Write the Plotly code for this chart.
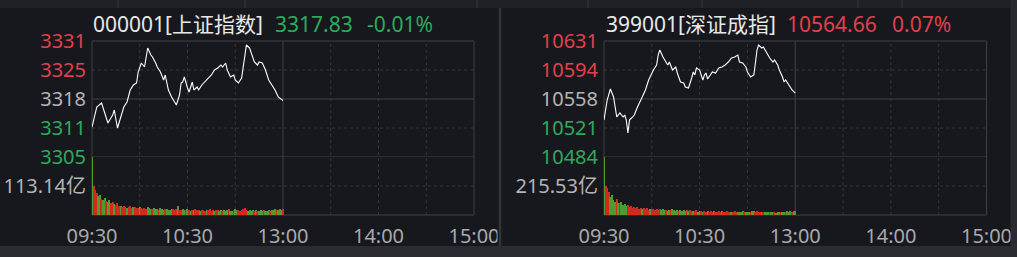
import plotly.graph_objects as go

W, H = 1017, 257

# ---------------- data ----------------
time_ticks = [0, 60, 120, 180, 240]
time_labels = ["09:30", "10:30", "13:00", "14:00", "15:00"]

# 上证指数
sh_name = "000001[上证指数]"
sh_last = "3317.83"
sh_chg = "-0.01%"
sh_prev = 3318.16
sh_step = 6.5
sh_tick_labels = ["3305", "3311", "3318", "3325", "3331"]
sh_vol_label = 113.14
sh_min = [0, 3, 6, 8, 10, 13, 14, 16, 18, 19, 20, 22, 24, 26, 28, 29, 31, 33, 34, 35,
          37, 38, 40, 41, 43, 45, 46, 48, 50, 51, 53, 55, 56, 57, 58, 60, 61, 63, 64, 66,
          67, 69, 71, 73, 75, 77, 79, 81, 82, 84, 85, 87, 89, 90, 92, 94, 95, 96, 97, 99,
          100, 102, 104, 105, 107, 109, 111, 113, 115, 117, 120]
sh_price = [3311.88, 3316.37, 3317.26, 3315.02, 3312.78, 3314.57, 3315.69, 3311.66, 3314.13, 3315.69,
            3316.37, 3317.49, 3320.18, 3321.30, 3321.75, 3324.21, 3326.23, 3325.33, 3327.57, 3329.59,
            3328.02, 3327.57, 3326.23, 3325.33, 3324.21, 3322.42, 3323.54, 3320.18, 3318.61, 3317.94,
            3316.82, 3319.06, 3321.75, 3321.97, 3323.09, 3320.63, 3319.73, 3321.97, 3320.18, 3320.85,
            3320.18, 3321.30, 3321.97, 3322.87, 3323.54, 3324.66, 3325.11, 3325.78, 3325.33, 3326.23,
            3324.66, 3323.09, 3323.54, 3322.42, 3321.75, 3322.87, 3325.33, 3328.47, 3330.26, 3329.59,
            3328.47, 3326.45, 3325.78, 3326.45, 3326.23, 3324.66, 3322.42, 3321.30, 3320.18, 3318.61,
            3317.83]
sh_vol = [240,
          112, 96, 84, 74, 78, 64, 58, 68, 55, 50,
          58, 46, 52, 42, 38, 46, 36, 34, 30, 35,
          32, 28, 30, 34, 27, 30, 33, 28, 26, 30,
          27, 24, 28, 25, 30, 26, 22, 25, 27, 23,
          24, 21, 26, 22, 20, 25, 23, 21, 19, 24,
          22, 20, 23, 35, 21, 19, 24, 20, 18, 22,
          20, 17, 21, 19, 23, 18, 20, 17, 21, 19,
          16, 20, 18, 22, 17, 19, 16, 20, 18, 15,
          19, 17, 21, 16, 18, 22, 17, 15, 19, 24,
          18, 20, 16, 19, 22, 26, 20, 17, 19, 16,
          18, 15, 19, 17, 16, 20, 15, 18, 17, 16,
          19, 17, 20, 18, 22, 19, 21, 24, 20, 22]
sh_dir = ("g rrrg grggrggr rgrrrgr rrgrrrgrrrgrrrrg ggrgggrgggrgggg rrrgrrggrg "
          "rgrgrrrgrrrgrrrrgrrg grgggrggrggrrrr rrggg grgrgggrgggrgggrgggr")

# 深证成指
sz_name = "399001[深证成指]"
sz_last = "10564.66"
sz_chg = "0.07%"
sz_prev = 10557.27
sz_step = 36.75
sz_tick_labels = ["10484", "10521", "10558", "10594", "10631"]
sz_vol_label = 215.53
sz_min = [0, 2, 4, 6, 7, 8, 10, 12, 13, 14, 15, 16, 18, 19, 21, 22, 24, 26, 28, 31,
          33, 34, 35, 37, 38, 40, 41, 43, 45, 46, 48, 50, 51, 53, 55, 56, 57, 58, 60, 62,
          63, 64, 65, 67, 68, 70, 72, 74, 76, 78, 80, 82, 84, 85, 87, 89, 90, 92, 94, 95,
          96, 97, 99, 100, 102, 104, 106, 107, 109, 110, 112, 113, 114, 116, 118, 120]
sz_price = [10530.66, 10556.00, 10569.94, 10559.80, 10547.13, 10534.47, 10539.53, 10534.47, 10537.00, 10530.66,
            10514.19, 10530.66, 10534.47, 10537.00, 10547.13, 10552.20, 10559.80, 10568.67, 10581.34, 10594.00,
            10600.35, 10613.02, 10619.35, 10610.48, 10606.68, 10600.35, 10604.15, 10594.00, 10597.81, 10590.21,
            10578.81, 10577.54, 10572.47, 10571.21, 10583.88, 10591.48, 10587.68, 10596.55, 10594.01, 10581.34,
            10587.68, 10590.21, 10582.61, 10587.68, 10591.48, 10590.21, 10596.55, 10597.81, 10600.35, 10604.15,
            10609.22, 10610.48, 10613.02, 10604.15, 10602.88, 10597.81, 10591.48, 10585.14, 10587.68, 10602.88,
            10619.35, 10625.69, 10621.89, 10623.15, 10615.55, 10609.22, 10604.15, 10606.68, 10600.35, 10594.00,
            10585.14, 10578.81, 10581.34, 10575.00, 10568.67, 10564.66]
sz_vol = [460,
          214, 200, 172, 136, 150, 112, 100, 118, 90, 86,
          95, 74, 82, 70, 78, 60, 66, 55, 62, 52,
          58, 48, 55, 45, 50, 44, 52, 40, 47, 42,
          48, 40, 44, 38, 46, 36, 42, 35, 40, 33,
          38, 34, 42, 36, 30, 40, 32, 37, 30, 35,
          28, 34, 30, 38, 27, 32, 29, 35, 26, 31,
          28, 24, 30, 26, 32, 25, 28, 23, 30, 26,
          24, 28, 22, 27, 25, 23, 29, 24, 21, 26,
          23, 27, 22, 25, 20, 24, 28, 22, 26, 23,
          21, 25, 27, 30, 24, 28, 22, 26, 20, 24,
          22, 19, 25, 21, 23, 20, 24, 18, 22, 25,
          20, 23, 26, 22, 28, 24, 30, 26, 32, 28]
sz_dir = ("g rrrg gggrgrggggr rrrrrrrrgrrrrgrrrrrr gggrggrggggrggggrg "
          "rrgrrggrgrrgrrrgrrrrgrrrrrgrrr ggggrgggrgg rrrrgr gggrggrgggrggrgggrgg")

# ---------------- style ----------------
BG = "#17181d"
RED = "#e0404c"
GREEN = "#2eaa5c"
GREY = "#b4b4b6"
WHITE = "#e8e8e8"
BAR_RED = "#d22a1e"
BAR_GREEN = "#4f9c2e"
GRID_SOLID = "#404147"
GRID_DOT = "#36373d"
FONT = "Noto Sans, Noto Sans CJK SC, sans-serif"
FS = 20
FS_HEAD = 21


def fx(px):
    return px / W


def fy(px):
    return 1 - px / H


price_dom = [fy(157), fy(41)]
vol_dom = [fy(215), fy(157)]
panels = [
    dict(x0=92, x1=474, name=sh_name, last=sh_last, chg=sh_chg, chg_col=GREEN,
         name_x=91, last_x=273, chg_x=365,
         prev=sh_prev, step=sh_step, labels=sh_tick_labels, vlab=sh_vol_label,
         mins=sh_min, price=sh_price, vol=sh_vol, dirs=sh_dir),
    dict(x0=604, x1=986.5, name=sz_name, last=sz_last, chg=sz_chg, chg_col=RED,
         name_x=604, last_x=785, chg_x=890,
         prev=sz_prev, step=sz_step, labels=sz_tick_labels, vlab=sz_vol_label,
         mins=sz_min, price=sz_price, vol=sz_vol, dirs=sz_dir),
]

fig = go.Figure()
shapes = []
annotations = []
layout = {}

tick_cols = [GREEN, GREEN, GREY, RED, RED]

for i, p in enumerate(panels):
    xa = "x" if i == 0 else "x2"
    ya_p = "y" if i == 0 else "y3"
    ya_v = "y2" if i == 0 else "y4"
    xkey = "xaxis" if i == 0 else "xaxis2"
    ypkey = "yaxis" if i == 0 else "yaxis3"
    yvkey = "yaxis2" if i == 0 else "yaxis4"

    dirs = "".join(p["dirs"].split())
    cols = [BAR_RED if c == "r" else BAR_GREEN for c in dirs]
    vx = list(range(len(p["vol"])))

    fig.add_trace(go.Bar(x=vx, y=p["vol"], marker=dict(color=cols, line=dict(width=0)),
                         width=0.72, xaxis=xa, yaxis=ya_v, showlegend=False))
    fig.add_trace(go.Scatter(x=p["mins"], y=p["price"], mode="lines",
                             line=dict(color="#ffffff", width=1.1),
                             xaxis=xa, yaxis=ya_p, showlegend=False))

    prev, step = p["prev"], p["step"]
    tvals = [prev + k * step for k in (-2, -1, 0, 1, 2)]
    ttext = [f"<span style='color:{c}'>{t}</span>" for c, t in zip(tick_cols, p["labels"])]

    layout[xkey] = dict(domain=[fx(p["x0"]), fx(p["x1"])], range=[0, 240],
                        anchor=ya_v, tickvals=time_ticks, ticktext=time_labels,
                        showgrid=False, zeroline=False, showline=False, ticks="",
                        ticklabelstandoff=7, automargin=False,
                        tickfont=dict(family=FONT, size=FS, color="#a9a9ac"), fixedrange=True)
    layout[ypkey] = dict(domain=price_dom, range=[tvals[0], tvals[-1]], anchor=xa,
                         tickvals=tvals, ticktext=ttext, showgrid=False, zeroline=False,
                         showline=False, ticks="", ticklabelstandoff=5, automargin=False,
                         tickfont=dict(family=FONT, size=FS, color=GREY))
    layout[yvkey] = dict(domain=vol_dom, range=[0, 2 * p["vlab"]], anchor=xa,
                         tickvals=[p["vlab"]], ticktext=[f"{p['vlab']:.2f}亿"],
                         showgrid=False, zeroline=False, showline=False, ticks="",
                         ticklabelstandoff=5, automargin=False,
                         tickfont=dict(family=FONT, size=FS, color=GREY))

    # grid: horizontal
    for k in (-1, 1):
        shapes.append(dict(type="line", xref=f"{xa} domain", x0=0, x1=1, yref=ya_p,
                           y0=prev + k * step, y1=prev + k * step,
                           line=dict(color=GRID_DOT, width=1, dash="dot"), layer="below"))
    for k in (-2, 0):
        shapes.append(dict(type="line", xref=f"{xa} domain", x0=0, x1=1, yref=ya_p,
                           y0=prev + k * step, y1=prev + k * step,
                           line=dict(color=GRID_SOLID, width=1), layer="below"))
    shapes.append(dict(type="line", xref=f"{xa} domain", x0=0, x1=1, yref=ya_v,
                       y0=p["vlab"], y1=p["vlab"],
                       line=dict(color=GRID_DOT, width=1, dash="dot"), layer="below"))
    # grid: vertical
    for t in (30, 60, 90, 150, 180, 210):
        shapes.append(dict(type="line", xref=xa, x0=t, x1=t, yref="paper",
                           y0=vol_dom[0], y1=price_dom[1],
                           line=dict(color=GRID_DOT, width=1, dash="dot"), layer="below"))
    shapes.append(dict(type="line", xref=xa, x0=120, x1=120, yref="paper",
                       y0=vol_dom[0], y1=price_dom[1],
                       line=dict(color=GRID_SOLID, width=1), layer="below"))
    # border
    shapes.append(dict(type="rect", xref=f"{xa} domain", x0=0, x1=1, yref="paper",
                       y0=vol_dom[0], y1=price_dom[1],
                       line=dict(color=GRID_SOLID, width=1), fillcolor="rgba(0,0,0,0)",
                       layer="below"))

    # header
    yh = fy(24)
    for txt, xpx, col in ((p["name"], p["name_x"], WHITE),
                          (p["last"], p["last_x"], p["chg_col"]),
                          (p["chg"], p["chg_x"], p["chg_col"])):
        annotations.append(dict(text=txt, x=fx(xpx), y=yh, xref="paper", yref="paper",
                                xanchor="left", yanchor="middle", showarrow=False,
                                font=dict(family=FONT, size=FS_HEAD, color=col)))

# chrome: top strip, separators, bottom strip
shapes.append(dict(type="rect", xref="paper", yref="paper", x0=0, x1=1, y0=fy(8), y1=1,
                   fillcolor="#202126", line=dict(width=0), layer="below"))
for xs in (118, 245, 477, 588, 702, 858, 902):
    shapes.append(dict(type="line", xref="paper", yref="paper", x0=fx(xs), x1=fx(xs),
                       y0=fy(8), y1=1, line=dict(color="#34353a", width=1), layer="below"))
shapes.append(dict(type="rect", xref="paper", yref="paper", x0=fx(497.5), x1=fx(503),
                   y0=fy(257), y1=fy(8), fillcolor="#1b1c21", line=dict(width=0), layer="above"))
shapes.append(dict(type="line", xref="paper", yref="paper", x0=fx(500), x1=fx(500),
                   y0=fy(257), y1=fy(8), line=dict(color="#34353b", width=2), layer="above"))
shapes.append(dict(type="rect", xref="paper", yref="paper", x0=fx(1010.5), x1=1,
                   y0=0, y1=1, fillcolor="#2a2b30", line=dict(width=0), layer="above"))
shapes.append(dict(type="rect", xref="paper", yref="paper", x0=0, x1=1,
                   y0=0, y1=fy(246), fillcolor="#2b2c31", line=dict(width=0), layer="above"))

fig.update_layout(
    width=W, height=H, margin=dict(l=0, r=0, t=0, b=0, autoexpand=False),
    paper_bgcolor=BG, plot_bgcolor=BG, bargap=0,
    shapes=shapes, annotations=annotations, showlegend=False,
    **layout,
)

fig.write_html("out.html", config={"displayModeBar": False})
